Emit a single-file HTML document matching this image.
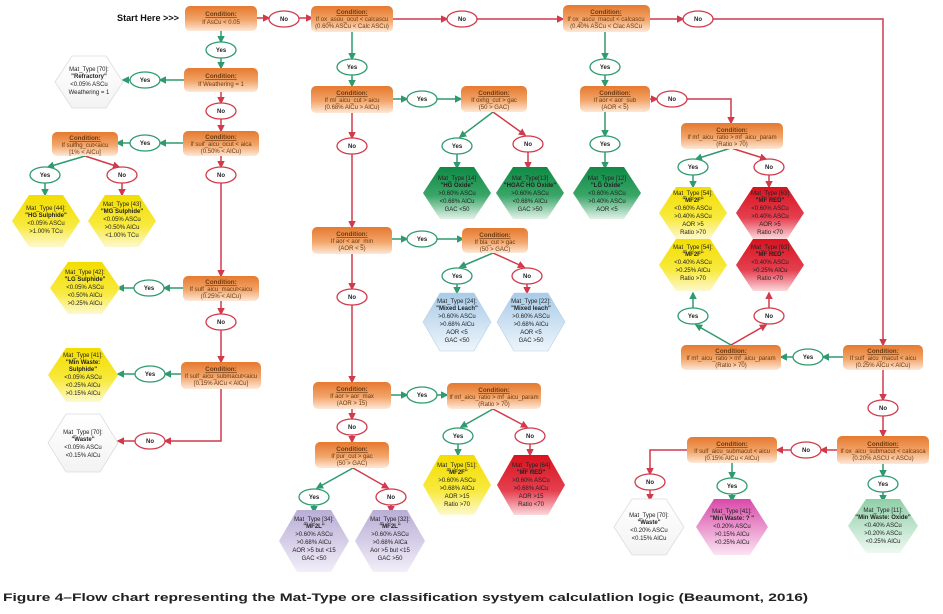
<!DOCTYPE html>
<html><head><meta charset="utf-8"><style>
html,body{margin:0;padding:0;background:#fff;}
svg{display:block;font-family:"Liberation Sans",sans-serif;}
.c text{font-size:6px;fill:#6b3a10;text-anchor:middle;}
.c text.h{font-weight:bold;text-decoration:underline;font-size:6.3px;}
.h6 text{font-size:6px;fill:#222;text-anchor:middle;}
.h6 text.b{font-weight:bold;}
.pg ellipse{fill:#fff;stroke:#2e9a6e;stroke-width:1.3;}
.pr ellipse{fill:#fff;stroke:#d13a4a;stroke-width:1.3;}
.pg text,.pr text{font-size:6px;font-weight:bold;text-anchor:middle;fill:#222;}
.g{stroke:#2e9a6e;stroke-width:1.5;fill:none;}
.r{stroke:#d13a4a;stroke-width:1.5;fill:none;}
.g.a{marker-end:url(#ag);}
.r.a{marker-end:url(#ar);}
</style></head><body>
<svg width="943" height="614" viewBox="0 0 943 614" xmlns="http://www.w3.org/2000/svg">
<defs>
<marker id="ag" markerWidth="5" markerHeight="5" refX="4" refY="2.5" orient="auto"><path d="M0,0L5,2.5L0,5z" fill="#2e9a6e"/></marker>
<marker id="ar" markerWidth="5" markerHeight="5" refX="4" refY="2.5" orient="auto"><path d="M0,0L5,2.5L0,5z" fill="#d13a4a"/></marker>
<linearGradient id="or" x1="0" y1="0" x2="0" y2="1"><stop offset="0" stop-color="#e57a30"/><stop offset="0.55" stop-color="#f2a56a"/><stop offset="1" stop-color="#fde8d8"/></linearGradient>
<linearGradient id="ye" x1="0" y1="0" x2="0" y2="1"><stop offset="0" stop-color="#f3dd00"/><stop offset="0.6" stop-color="#f8ea40"/><stop offset="1" stop-color="#fdf8d0"/></linearGradient>
<linearGradient id="gr" x1="0" y1="0" x2="0" y2="1"><stop offset="0" stop-color="#0f8a45"/><stop offset="0.55" stop-color="#3aa668"/><stop offset="1" stop-color="#e2f2e8"/></linearGradient>
<linearGradient id="bl" x1="0" y1="0" x2="0" y2="1"><stop offset="0" stop-color="#a8cbe8"/><stop offset="1" stop-color="#eef5fb"/></linearGradient>
<linearGradient id="re" x1="0" y1="0" x2="0" y2="1"><stop offset="0" stop-color="#d8131f"/><stop offset="0.6" stop-color="#e54050"/><stop offset="1" stop-color="#fbd8dc"/></linearGradient>
<linearGradient id="pu" x1="0" y1="0" x2="0" y2="1"><stop offset="0" stop-color="#b9add6"/><stop offset="1" stop-color="#f1eef8"/></linearGradient>
<linearGradient id="pk" x1="0" y1="0" x2="0" y2="1"><stop offset="0" stop-color="#d84aa8"/><stop offset="1" stop-color="#fbe3f2"/></linearGradient>
<linearGradient id="lg" x1="0" y1="0" x2="0" y2="1"><stop offset="0" stop-color="#8fcfa8"/><stop offset="1" stop-color="#eef8f1"/></linearGradient>
<linearGradient id="wh" x1="0" y1="0" x2="0" y2="1"><stop offset="0" stop-color="#ffffff"/><stop offset="1" stop-color="#f3f3f3"/></linearGradient>
</defs>

<text x="117" y="21" font-size="9.5" font-weight="bold" fill="#111" textLength="62" lengthAdjust="spacingAndGlyphs">Start Here &gt;&gt;&gt;</text>

<!-- connectors -->
<g>
<path class="r a" d="M257,18H269"/><path class="r a" d="M299,18H312"/>
<path class="g a" d="M221,31V42"/><path class="g a" d="M221,58V68"/>
<path class="g a" d="M184,80H160"/><path class="g a" d="M130,80H123"/>
<path class="r a" d="M221,92V103"/><path class="r a" d="M221,119V131"/>
<path class="g a" d="M183,143H160"/><path class="g a" d="M130,143H117"/>
<path class="g a" d="M85,156L48,167"/><path class="g a" d="M45,183V195"/>
<path class="r a" d="M85,156L119,167"/><path class="r a" d="M122,183V195"/>
<path class="r a" d="M221,156V167"/><path class="r a" d="M221,183V276"/>
<path class="g a" d="M183,288H164"/><path class="g a" d="M134,288H118"/>
<path class="r a" d="M221,300V314"/><path class="r a" d="M221,330V362"/>
<path class="g a" d="M181,374H165"/><path class="g a" d="M135,374H118"/>
<path class="r a" d="M221,389V441H165"/><path class="r a" d="M135,441H118"/>

<path class="r a" d="M393,19H447"/><path class="r a" d="M477,19H563"/>
<path class="g a" d="M352,32V59"/><path class="g a" d="M352,75V86"/>
<path class="g a" d="M393,99H407"/><path class="g a" d="M437,99H461"/>
<path class="g a" d="M493,112L460,137"/><path class="g a" d="M457,154V168"/>
<path class="r a" d="M493,112L525,135"/><path class="r a" d="M528,152V168"/>
<path class="r a" d="M352,113V138"/><path class="r a" d="M352,154V227"/>
<path class="g a" d="M392,239H407"/><path class="g a" d="M437,239H463"/>
<path class="g a" d="M493,253L460,267"/><path class="g a" d="M457,284V293"/>
<path class="r a" d="M493,253L524,267"/><path class="r a" d="M527,284V293"/>
<path class="r a" d="M352,254V289"/><path class="r a" d="M352,305V382"/>
<path class="g a" d="M391,395H407"/><path class="g a" d="M437,395H447"/>
<path class="g a" d="M493,409L461,427"/><path class="g a" d="M458,444V455"/>
<path class="r a" d="M493,409L527,427"/><path class="r a" d="M530,444V455"/>
<path class="r a" d="M352,409V419"/><path class="r a" d="M352,435V442"/>
<path class="g a" d="M353,468L317,488"/><path class="g a" d="M314,505V512"/>
<path class="r a" d="M353,468L388,488"/><path class="r a" d="M391,505V512"/>

<path class="r a" d="M650,19H683"/><path class="r a" d="M713,19H883V345"/>
<path class="g a" d="M605,32V59"/><path class="g a" d="M605,75V86"/>
<path class="r a" d="M650,99H657"/><path class="r a" d="M687,99H731V123"/>
<path class="g a" d="M605,112V136"/><path class="g a" d="M605,152V168"/>
<path class="g a" d="M731,148L696,159"/><path class="g a" d="M693,175V187"/>
<path class="r a" d="M731,148L766,159"/><path class="r a" d="M769,175V187"/>
<path class="g a" d="M731,345L696,325"/><path class="g a" d="M693,308V293"/>
<path class="r a" d="M731,345L766,325"/><path class="r a" d="M769,308V293"/>
<path class="g a" d="M843,357H823"/><path class="g a" d="M793,357H781"/>
<path class="r a" d="M883,370V400"/><path class="r a" d="M883,416V436"/>
<path class="r a" d="M838,450H821"/><path class="r a" d="M791,450H777"/>
<path class="g a" d="M883,464V476"/><path class="g a" d="M883,492V501"/>
<path class="g a" d="M732,463V478"/><path class="g a" d="M732,494V501"/>
<path class="r a" d="M688,450H650V474"/><path class="r a" d="M650,490V500"/>
</g>

<!-- conditions -->
<g class="c">
<g transform="translate(221,18)"><rect x="-36" y="-12" width="72" height="25" rx="5" fill="url(#or)"/><text class="h" y="-2">Condition:</text><text y="6">If AsCu &lt; 0.05</text></g>
<g transform="translate(352,19)"><rect x="-41" y="-13" width="82" height="26" rx="5" fill="url(#or)"/><text class="h" y="-5">Condition:</text><text y="2">If ox_asou_ocut &lt; calcascu</text><text y="9">(0.60% ASCu &lt; Calc ASCu)</text></g>
<g transform="translate(606,19)"><rect x="-43" y="-14" width="87" height="27" rx="5" fill="url(#or)"/><text class="h" y="-5">Condition:</text><text y="2">If ox_ascu_macut &lt; calcascu</text><text y="9">(0.40% ASCu &lt; Clac ASCu</text></g>
<g transform="translate(221,80)"><rect x="-37" y="-12" width="74" height="24" rx="5" fill="url(#or)"/><text class="h" y="-2">Condition:</text><text y="6">If Weathering = 1</text></g>
<g transform="translate(221,143)"><rect x="-38" y="-12" width="76" height="25" rx="5" fill="url(#or)"/><text class="h" y="-4">Condition:</text><text y="3">If suif_aicu_ocut &lt; aica</text><text y="10">(0.50% &lt; AlCu)</text></g>
<g transform="translate(85,144)"><rect x="-33" y="-12" width="66" height="24" rx="5" fill="url(#or)"/><text class="h" y="-4">Condition:</text><text y="3">If sulfhg_cut&lt;aicu</text><text y="10">[1% &lt; AlCu]</text></g>
<g transform="translate(221,288)"><rect x="-38" y="-12" width="76" height="25" rx="5" fill="url(#or)"/><text class="h" y="-4">Condition:</text><text y="3">If sulf_aicu_macut&lt;aicu</text><text y="10">(0.25% &lt; AlCu)</text></g>
<g transform="translate(221,375)"><rect x="-40" y="-13" width="80" height="27" rx="5" fill="url(#or)"/><text class="h" y="-4">Condition:</text><text y="3">If sulf_aicu_submacut&lt;aicu</text><text y="10">[0.15% AlCu &lt; AlCu]</text></g>
<g transform="translate(352,100)"><rect x="-41" y="-14" width="82" height="27" rx="5" fill="url(#or)"/><text class="h" y="-5">Condition:</text><text y="2">If ml_aicu_cut &gt; aicu</text><text y="9">(0.68% AlCu &gt; AlCu)</text></g>
<g transform="translate(494,99)"><rect x="-33" y="-13" width="66" height="26" rx="5" fill="url(#or)"/><text class="h" y="-4">Condition:</text><text y="3">If oxhg_cut &gt; gac</text><text y="10">(50 &gt; GAC)</text></g>
<g transform="translate(352,241)"><rect x="-40" y="-14" width="80" height="27" rx="5" fill="url(#or)"/><text class="h" y="-5">Condition:</text><text y="2">If aor &lt; aor_min</text><text y="9">(AOR &lt; 5)</text></g>
<g transform="translate(495,241)"><rect x="-33" y="-13" width="66" height="25" rx="5" fill="url(#or)"/><text class="h" y="-4">Condition:</text><text y="3">If bla_cut &gt; gac</text><text y="10">(50 &gt; GAC)</text></g>
<g transform="translate(352,395)"><rect x="-39" y="-13" width="78" height="27" rx="5" fill="url(#or)"/><text class="h" y="-4">Condition:</text><text y="3">If aor &gt; aor_max</text><text y="10">(AOR &gt; 15)</text></g>
<g transform="translate(494,396)"><rect x="-47" y="-13" width="94" height="26" rx="5" fill="url(#or)"/><text class="h" y="-4">Condition:</text><text y="3">If mf_aicu_ratio &gt; mf_aicu_param</text><text y="10">(Ratio &gt; 70)</text></g>
<g transform="translate(352,455)"><rect x="-37" y="-13" width="74" height="26" rx="5" fill="url(#or)"/><text class="h" y="-4">Condition:</text><text y="3">If pur_cut &gt; gac</text><text y="10">(50 &gt; GAC)</text></g>
<g transform="translate(615,99)"><rect x="-35" y="-13" width="70" height="26" rx="5" fill="url(#or)"/><text class="h" y="-4">Condition:</text><text y="3">If aor &lt; aor_sub</text><text y="10">(AOR &lt; 5)</text></g>
<g transform="translate(732,136)"><rect x="-51" y="-13" width="102" height="26" rx="5" fill="url(#or)"/><text class="h" y="-4">Condition:</text><text y="3">If mf_aicu_ratio &gt; mf_aicu_param</text><text y="10">(Ratio &gt; 70)</text></g>
<g transform="translate(731,357)"><rect x="-50" y="-12" width="100" height="25" rx="5" fill="url(#or)"/><text class="h" y="-4">Condition:</text><text y="3">If mf_aicu_ratio &gt; mf_aicu_param</text><text y="10">(Ratio &gt; 70)</text></g>
<g transform="translate(883,357)"><rect x="-40" y="-12" width="80" height="25" rx="5" fill="url(#or)"/><text class="h" y="-4">Condition:</text><text y="3">If sulf_aicu_macut &lt; aicu</text><text y="10">(0.25% AlCu &lt; AlCu)</text></g>
<g transform="translate(883,450)"><rect x="-46" y="-14" width="92" height="28" rx="5" fill="url(#or)"/><text class="h" y="-4">Condition:</text><text y="3">If ox_aicu_submacut &lt; calcasca</text><text y="10">(0.20% ASCU &lt; ASCu)</text></g>
<g transform="translate(732,450)"><rect x="-45" y="-13" width="90" height="26" rx="5" fill="url(#or)"/><text class="h" y="-4">Condition:</text><text y="3">If sulf_aicu_submacut &lt; aicu</text><text y="10">(0.15% AlCu &lt; AlCu)</text></g>
</g>

<!-- pills -->
<g class="pr"><g transform="translate(284,19)"><ellipse rx="15" ry="8"/><text y="2">No</text></g>
<g transform="translate(221,111)"><ellipse rx="15" ry="8"/><text y="2">No</text></g>
<g transform="translate(122,175)"><ellipse rx="15" ry="8"/><text y="2">No</text></g>
<g transform="translate(221,175)"><ellipse rx="15" ry="8"/><text y="2">No</text></g>
<g transform="translate(221,322)"><ellipse rx="15" ry="8"/><text y="2">No</text></g>
<g transform="translate(150,441)"><ellipse rx="15" ry="8"/><text y="2">No</text></g>
<g transform="translate(462,19)"><ellipse rx="15" ry="8"/><text y="2">No</text></g>
<g transform="translate(352,146)"><ellipse rx="15" ry="8"/><text y="2">No</text></g>
<g transform="translate(528,144)"><ellipse rx="15" ry="8"/><text y="2">No</text></g>
<g transform="translate(352,297)"><ellipse rx="15" ry="8"/><text y="2">No</text></g>
<g transform="translate(527,276)"><ellipse rx="15" ry="8"/><text y="2">No</text></g>
<g transform="translate(352,427)"><ellipse rx="15" ry="8"/><text y="2">No</text></g>
<g transform="translate(530,436)"><ellipse rx="15" ry="8"/><text y="2">No</text></g>
<g transform="translate(391,497)"><ellipse rx="15" ry="8"/><text y="2">No</text></g>
<g transform="translate(698,19)"><ellipse rx="15" ry="8"/><text y="2">No</text></g>
<g transform="translate(672,99)"><ellipse rx="15" ry="8"/><text y="2">No</text></g>
<g transform="translate(769,167)"><ellipse rx="15" ry="8"/><text y="2">No</text></g>
<g transform="translate(769,316)"><ellipse rx="15" ry="8"/><text y="2">No</text></g>
<g transform="translate(883,408)"><ellipse rx="15" ry="8"/><text y="2">No</text></g>
<g transform="translate(806,450)"><ellipse rx="15" ry="8"/><text y="2">No</text></g>
<g transform="translate(650,482)"><ellipse rx="15" ry="8"/><text y="2">No</text></g>
</g>
<g class="pg"><g transform="translate(221,50)"><ellipse rx="15" ry="8"/><text y="2">Yes</text></g>
<g transform="translate(145,80)"><ellipse rx="15" ry="8"/><text y="2">Yes</text></g>
<g transform="translate(145,143)"><ellipse rx="15" ry="8"/><text y="2">Yes</text></g>
<g transform="translate(45,175)"><ellipse rx="15" ry="8"/><text y="2">Yes</text></g>
<g transform="translate(149,288)"><ellipse rx="15" ry="8"/><text y="2">Yes</text></g>
<g transform="translate(150,374)"><ellipse rx="15" ry="8"/><text y="2">Yes</text></g>
<g transform="translate(352,67)"><ellipse rx="15" ry="8"/><text y="2">Yes</text></g>
<g transform="translate(422,99)"><ellipse rx="15" ry="8"/><text y="2">Yes</text></g>
<g transform="translate(457,146)"><ellipse rx="15" ry="8"/><text y="2">Yes</text></g>
<g transform="translate(422,239)"><ellipse rx="15" ry="8"/><text y="2">Yes</text></g>
<g transform="translate(457,276)"><ellipse rx="15" ry="8"/><text y="2">Yes</text></g>
<g transform="translate(422,395)"><ellipse rx="15" ry="8"/><text y="2">Yes</text></g>
<g transform="translate(458,436)"><ellipse rx="15" ry="8"/><text y="2">Yes</text></g>
<g transform="translate(314,497)"><ellipse rx="15" ry="8"/><text y="2">Yes</text></g>
<g transform="translate(605,67)"><ellipse rx="15" ry="8"/><text y="2">Yes</text></g>
<g transform="translate(605,144)"><ellipse rx="15" ry="8"/><text y="2">Yes</text></g>
<g transform="translate(693,167)"><ellipse rx="15" ry="8"/><text y="2">Yes</text></g>
<g transform="translate(693,316)"><ellipse rx="15" ry="8"/><text y="2">Yes</text></g>
<g transform="translate(808,357)"><ellipse rx="15" ry="8"/><text y="2">Yes</text></g>
<g transform="translate(883,484)"><ellipse rx="15" ry="8"/><text y="2">Yes</text></g>
<g transform="translate(732,486)"><ellipse rx="15" ry="8"/><text y="2">Yes</text></g>
</g>

<!-- hexagons -->
<g class="h6">
<g transform="translate(89,82)"><polygon points="-34,0 -17,-26 17,-26 34,0 17,26 -17,26" fill="url(#wh)" stroke="#ddd" stroke-width="0.8"/><text y="-11">Mat_Type [70]:</text><text class="b" y="-4">"Refractory"</text><text y="4">&lt;0.05% ASCu</text><text y="12">Weathering = 1</text></g>
<g transform="translate(46,221)"><polygon points="-34,0 -17,-26 17,-26 34,0 17,26 -17,26" fill="url(#ye)"/><text y="-11">Mat_Type [44]:</text><text class="b" y="-4">"HG Sulphide"</text><text y="4">&lt;0.05% ASCu</text><text y="12">&gt;1.00% TCu</text></g>
<g transform="translate(122,221)"><polygon points="-34,0 -17,-26 17,-26 34,0 17,26 -17,26" fill="url(#ye)"/><text y="-15">Mat_Type [43]</text><text class="b" y="-8">"MG Sulphide"</text><text y="0">&lt;0.05% ASCu</text><text y="8">&gt;0.50% AlCu</text><text y="16">&lt;1.00% TCu</text></g>
<g transform="translate(85,288)"><polygon points="-35,0 -17,-26 17,-26 35,0 17,26 -17,26" fill="url(#ye)"/><text y="-14">Mat_Type [42]:</text><text class="b" y="-7">"LG Sulphide"</text><text y="1">&lt;0.05% ASCu</text><text y="9">&lt;0.50% AlCu</text><text y="17">&gt;0.25% AlCu</text></g>
<g transform="translate(83,375)"><polygon points="-35,0 -17,-27 17,-27 35,0 17,27 -17,27" fill="url(#ye)"/><text y="-18">Mat_Type [41]:</text><text class="b" y="-11">"Min Waste:</text><text class="b" y="-4">Sulphide"</text><text y="4">&lt;0.05% ASCu</text><text y="12">&lt;0.25% AlCu</text><text y="20">&gt;0.15% AlCu</text></g>
<g transform="translate(83,443)"><polygon points="-35,0 -17,-29 17,-29 35,0 17,29 -17,29" fill="url(#wh)" stroke="#ddd" stroke-width="0.8"/><text y="-9">Mat_Type [70]:</text><text class="b" y="-2">"Waste"</text><text y="6">&lt;0.05% ASCu</text><text y="14">&lt;0.15% AlCu</text></g>
<g transform="translate(457,193)"><polygon points="-34,0 -17,-26 17,-26 34,0 17,26 -17,26" fill="url(#gr)"/><text y="-13">Mat_Type [14]</text><text class="b" y="-6">"HG Oxide"</text><text y="2">&gt;0.60% ASCu</text><text y="10">&lt;0.68% AlCu</text><text y="18">GAC &lt;50</text></g>
<g transform="translate(530,193)"><polygon points="-34,0 -17,-26 17,-26 34,0 17,26 -17,26" fill="url(#gr)"/><text y="-13">Mat_Type[13]</text><text class="b" y="-6">"HGAC HG Oxide"</text><text y="2">&gt;0.60% ASCu</text><text y="10">&lt;0.68% AlCu</text><text y="18">GAC &gt;50</text></g>
<g transform="translate(607,193)"><polygon points="-34,0 -17,-26 17,-26 34,0 17,26 -17,26" fill="url(#gr)"/><text y="-13">Mat_Type [12]</text><text class="b" y="-6">"LG Oxide"</text><text y="2">&lt;0.60% ASCu</text><text y="10">&gt;0.40% ASCu</text><text y="18">AOR &lt;5</text></g>
<g transform="translate(457,322)"><polygon points="-34,0 -17,-29 17,-29 34,0 17,29 -17,29" fill="url(#bl)" stroke="#b8cfe3" stroke-width="0.6"/><text y="-19">Mat_Type [24]:</text><text class="b" y="-12">"Mixed Leach"</text><text y="-4">&gt;0.60% ASCu</text><text y="4">&gt;0.68% AlCu</text><text y="12">AOR &lt;5</text><text y="20">GAC &lt;50</text></g>
<g transform="translate(531,322)"><polygon points="-34,0 -17,-29 17,-29 34,0 17,29 -17,29" fill="url(#bl)" stroke="#b8cfe3" stroke-width="0.6"/><text y="-19">Mat_Type [22]:</text><text class="b" y="-12">"Mixed leach"</text><text y="-4">&gt;0.60% ASCu</text><text y="4">&gt;0.68% AlCu</text><text y="12">AOR &lt;5</text><text y="20">GAC &gt;50</text></g>
<g transform="translate(457,485)"><polygon points="-34,0 -17,-30 17,-30 34,0 17,30 -17,30" fill="url(#ye)"/><text y="-18">Mat_Type [51]:</text><text class="b" y="-11">"MF2F"</text><text y="-3">&gt;0.60% ASCu</text><text y="5">&gt;0.68% AlCu</text><text y="13">AOR &gt;15</text><text y="21">Ratio &gt;70</text></g>
<g transform="translate(531,485)"><polygon points="-34,0 -17,-30 17,-30 34,0 17,30 -17,30" fill="url(#re)"/><text y="-18">Mat_Type [64]</text><text class="b" y="-11">"MF RED"</text><text y="-3">&gt;0.60% ASCu</text><text y="5">&gt;0.68% AlCu</text><text y="13">AOR &gt;15</text><text y="21">Ratio &lt;70</text></g>
<g transform="translate(314,541)"><polygon points="-35,0 -17,-31 17,-31 35,0 17,31 -17,31" fill="url(#pu)"/><text y="-20">Mat_Type [34]:</text><text class="b" y="-13">"MF2L"</text><text y="-5">&gt;0.60% ASCu</text><text y="3">&gt;0.68% AlCu</text><text y="11">AOR &gt;5 but &lt;15</text><text y="19">GAC &lt;50</text></g>
<g transform="translate(390,541)"><polygon points="-35,0 -17,-31 17,-31 35,0 17,31 -17,31" fill="url(#pu)"/><text y="-20">Mat_Type [32]:</text><text class="b" y="-13">"MF2L"</text><text y="-5">&gt;0.60% ASCu</text><text y="3">&gt;0.68% AlCa</text><text y="11">Aor &gt;5 but &lt;15</text><text y="19">GAC &gt;50</text></g>
<g transform="translate(693,213)"><polygon points="-34,0 -17,-26 17,-26 34,0 17,26 -17,26" fill="url(#ye)"/><text y="-18">Mat_Type [54]:</text><text class="b" y="-11">"MF2F"</text><text y="-3">&lt;0.60% ASCu</text><text y="5">&gt;0.40% ASCu</text><text y="13">AOR &gt;5</text><text y="21">Ratio &gt;70</text></g>
<g transform="translate(770,213)"><polygon points="-34,0 -17,-26 17,-26 34,0 17,26 -17,26" fill="url(#re)"/><text y="-18">Mat_Type [63]</text><text class="b" y="-11">"MF RED"</text><text y="-3">&lt;0.60% ASCu</text><text y="5">&gt;0.40% ASCu</text><text y="13">AOR &gt;5</text><text y="21">Ratio &lt;70</text></g>
<g transform="translate(693,265)"><polygon points="-34,0 -17,-26 17,-26 34,0 17,26 -17,26" fill="url(#ye)"/><text y="-16">Mat_Type [54]:</text><text class="b" y="-9">"MF2F"</text><text y="-1">&lt;0.40% ASCu</text><text y="7">&gt;0.25% AlCu</text><text y="15">Ratio &gt;70</text></g>
<g transform="translate(770,265)"><polygon points="-34,0 -17,-26 17,-26 34,0 17,26 -17,26" fill="url(#re)"/><text y="-16">Mat_Type [63]</text><text class="b" y="-9">"MF RED"</text><text y="-1">&lt;0.40% ASCu</text><text y="7">&gt;0.25% AlCu</text><text y="15">Ratio &lt;70</text></g>
<g transform="translate(649,527)"><polygon points="-35,0 -17,-28 17,-28 35,0 17,28 -17,28" fill="url(#wh)" stroke="#ddd" stroke-width="0.8"/><text y="-10">Mat_Type [70]:</text><text class="b" y="-3">"Waste"</text><text y="5">&lt;0.20% ASCu</text><text y="13">&lt;0.15% AlCu</text></g>
<g transform="translate(732,527)"><polygon points="-36,0 -18,-28 18,-28 36,0 18,28 -18,28" fill="url(#pk)"/><text y="-14">Mat_Type [41]:</text><text class="b" y="-7">"Min Waste: ? "</text><text y="1">&lt;0.20% ASCu</text><text y="9">&gt;0.15% AlCu</text><text y="17">&lt;0.25% AlCu</text></g>
<g transform="translate(883,526)"><polygon points="-35,0 -17,-27 17,-27 35,0 17,27 -17,27" fill="url(#lg)"/><text y="-14">Mat_Type [11]:</text><text class="b" y="-7">"Min Waste: Oxide"</text><text y="1">&lt;0.40% ASCu</text><text y="9">&gt;0.20% ASCu</text><text y="17">&lt;0.25% AlCu</text></g>
</g>

<text x="3" y="601" font-size="11" font-weight="bold" fill="#222" textLength="805" lengthAdjust="spacingAndGlyphs">Figure 4–Flow chart representing the Mat-Type ore classification systyem calculatlion logic (Beaumont, 2016)</text>
</svg>
</body></html>
